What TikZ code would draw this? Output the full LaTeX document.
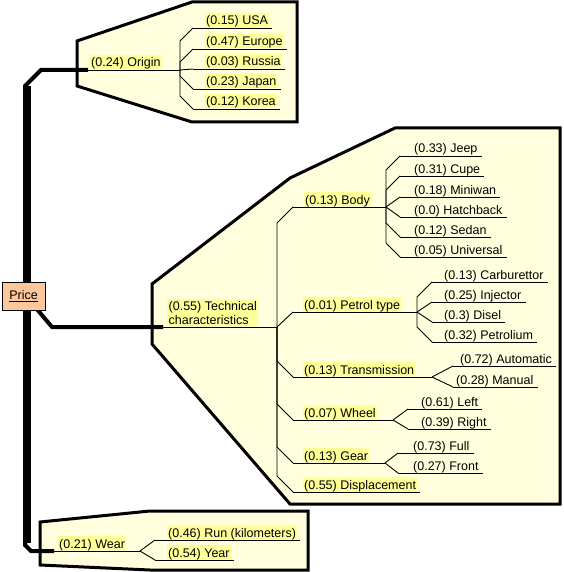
\documentclass[tikz,border=0pt]{standalone}
\usepackage{fontspec}
\setmainfont{Liberation Sans}
\usetikzlibrary{calc}
\definecolor{hly}{RGB}{255,255,153}
\definecolor{cream}{RGB}{255,255,221}
\definecolor{peach}{RGB}{252,200,155}
% leaf: name, start x, underline y, text x, style, text
\newcommand\lf[6]{%
  \coordinate (#1s) at (#2,#3);
  \node[#5] (#1) at (#4,#3-3) {#6};
  \draw[tl] (#1s) -- ($(#1s -| #1.east)+(3,0)$);
}
% parent: name, start x, underline y, text x, junction x, text
\newcommand\pn[6]{%
  \coordinate (#1s) at (#2,#3);
  \coordinate (#1j) at (#5,#3);
  \node[hl] (#1) at (#4,#3-3) {#6};
  \draw[tl] (#1s) -- (#1j);
}
% chamfered connector: junction, child start, vertical offset of bend
\newcommand\conn[3]{\draw[tl] (#1) -- ($(#1 |- #2)+(0,#3)$) -- (#2);}
\newcommand\dconn[2]{\draw[tl] (#1) -- (#2);}
\begin{document}
\begin{tikzpicture}[x=1pt,y=-1pt,
  font=\fontsize{12.5}{13.5}\selectfont,
  lbl/.style={anchor=base west,inner xsep=1pt,inner ysep=0.5pt,text height=11.5pt,text depth=1.5pt},
  hl/.style={lbl,fill=hly},
  tl/.style={line width=0.9pt},
  br/.style={line width=4pt},
  grp/.style={line width=3pt,fill=cream,line join=miter}]
\useasboundingbox (0,0) rectangle (563,572);

% group outlines
\draw[grp] (77,41) -- (192,2) -- (297,2) -- (297,122) -- (192,122) -- (77,86) -- cycle;
\draw[grp] (152,284) -- (290,178) -- (395,128) -- (560,128) -- (560,504) -- (290,504) -- (152,344) -- cycle;
\draw[grp] (40,522) -- (150,511) -- (308,511) -- (308,570) -- (150,570) -- (40,565) -- cycle;

% trunk and main branches
\coordinate (ttop) at (27,86);
\coordinate (tbot) at (27,543);
\draw[line width=8pt] (ttop) -- (tbot);
\coordinate (orgs) at (88,70);
\coordinate (tecs) at (163,327);
\coordinate (wears) at (54,551);
\draw[br] (25,95) -- (25,86) -- (41,70) -- (orgs);
\draw[br] (25,535) -- (25,545) -- (31,551) -- (wears);
\draw[br] (30,301) -- (52,327) -- (tecs);

% Origin
\pn{org}{88}{70}{90}{180}{(0.24) Origin}
\lf{usa}{193}{28}{205}{hl}{(0.15) USA}
\lf{eur}{193}{49}{205}{hl}{(0.47) Europe}
\lf{rus}{193}{69}{205}{hl}{(0.03) Russia}
\lf{jap}{193}{89}{205}{hl}{(0.23) Japan}
\lf{kor}{193}{109}{205}{hl}{(0.12) Korea}
\conn{orgj}{usas}{13}
\conn{orgj}{eurs}{13}
\dconn{orgj}{russ}
\conn{orgj}{japs}{-13}
\conn{orgj}{kors}{-13}

% Technical characteristics
\coordinate (tecj) at (277,327);
\draw[tl] (tecs) -- (tecj);
\node[fill=hly,anchor=south west,inner xsep=1.5pt,inner ysep=0pt,align=left] (tec) at (167,326.5)
  {\rule{0pt}{11.5pt}(0.55) Technical\\characteristics\rule[-2pt]{0pt}{2pt}};

\pn{body}{293}{207}{304}{386}{(0.13) Body}
\pn{pet}{293}{312}{303}{417}{(0.01) Petrol type}
\pn{tra}{293}{377}{303}{432}{(0.13) Transmission}
\pn{whe}{293}{420}{303}{393}{(0.07) Wheel}
\pn{gea}{293}{463}{303}{385}{(0.13) Gear}
\lf{dsp}{293}{492}{303}{hl}{(0.55) Displacement}
\conn{tecj}{bodys}{16}
\dconn{tecj}{pets}
\conn{tecj}{tras}{-16}
\conn{tecj}{whes}{-16}
\conn{tecj}{geas}{-16}
\conn{tecj}{dsps}{-16}

% Body
\lf{jeep}{400}{156}{413}{lbl}{(0.33) Jeep}
\lf{cupe}{400}{176}{413}{lbl}{(0.31) Cupe}
\lf{mini}{400}{197}{413}{lbl}{(0.18) Miniwan}
\lf{hat}{400}{217}{413}{lbl}{(0.0) Hatchback}
\lf{sed}{400}{237}{413}{lbl}{(0.12) Sedan}
\lf{uni}{400}{257}{413}{lbl}{(0.05) Universal}
\conn{bodyj}{jeeps}{14}
\conn{bodyj}{cupes}{14}
\dconn{bodyj}{minis}
\dconn{bodyj}{hats}
\conn{bodyj}{seds}{-14}
\conn{bodyj}{unis}{-14}

% Petrol type
\lf{car}{432}{282}{443}{lbl}{(0.13) Carburettor}
\lf{inj}{432}{302}{443}{lbl}{(0.25) Injector}
\lf{dsl}{432}{322}{443}{lbl}{(0.3) Disel}
\lf{ptr}{432}{342}{443}{lbl}{(0.32) Petrolium}
\conn{petj}{cars}{15}
\dconn{petj}{injs}
\dconn{petj}{dsls}
\conn{petj}{ptrs}{-15}

% Transmission
\lf{aut}{453}{366}{459}{lbl}{(0.72) Automatic}
\lf{man}{453}{387}{455}{lbl}{(0.28) Manual}
\dconn{traj}{auts}
\dconn{traj}{mans}

% Wheel
\lf{lef}{408}{409}{420}{lbl}{(0.61) Left}
\lf{rig}{408}{429}{420}{lbl}{(0.39) Right}
\dconn{whej}{lefs}
\dconn{whej}{rigs}

% Gear
\lf{ful}{398}{453}{412}{lbl}{(0.73) Full}
\lf{fro}{398}{473}{412}{lbl}{(0.27) Front}
\dconn{geaj}{fuls}
\dconn{geaj}{fros}

% Wear
\pn{wear}{54}{551}{58}{140}{(0.21) Wear}
\lf{run}{155}{540}{167}{hl}{(0.46) Run (kilometers)}
\lf{yea}{155}{560}{167}{hl}{(0.54) Year}
\dconn{wearj}{runs}
\dconn{wearj}{yeas}

% root
\node[draw,fill=peach,minimum width=43pt,minimum height=28pt,inner sep=0pt,line width=0.8pt] (price) at (23.5,296) {\underline{Price}};
\end{tikzpicture}
\end{document}
